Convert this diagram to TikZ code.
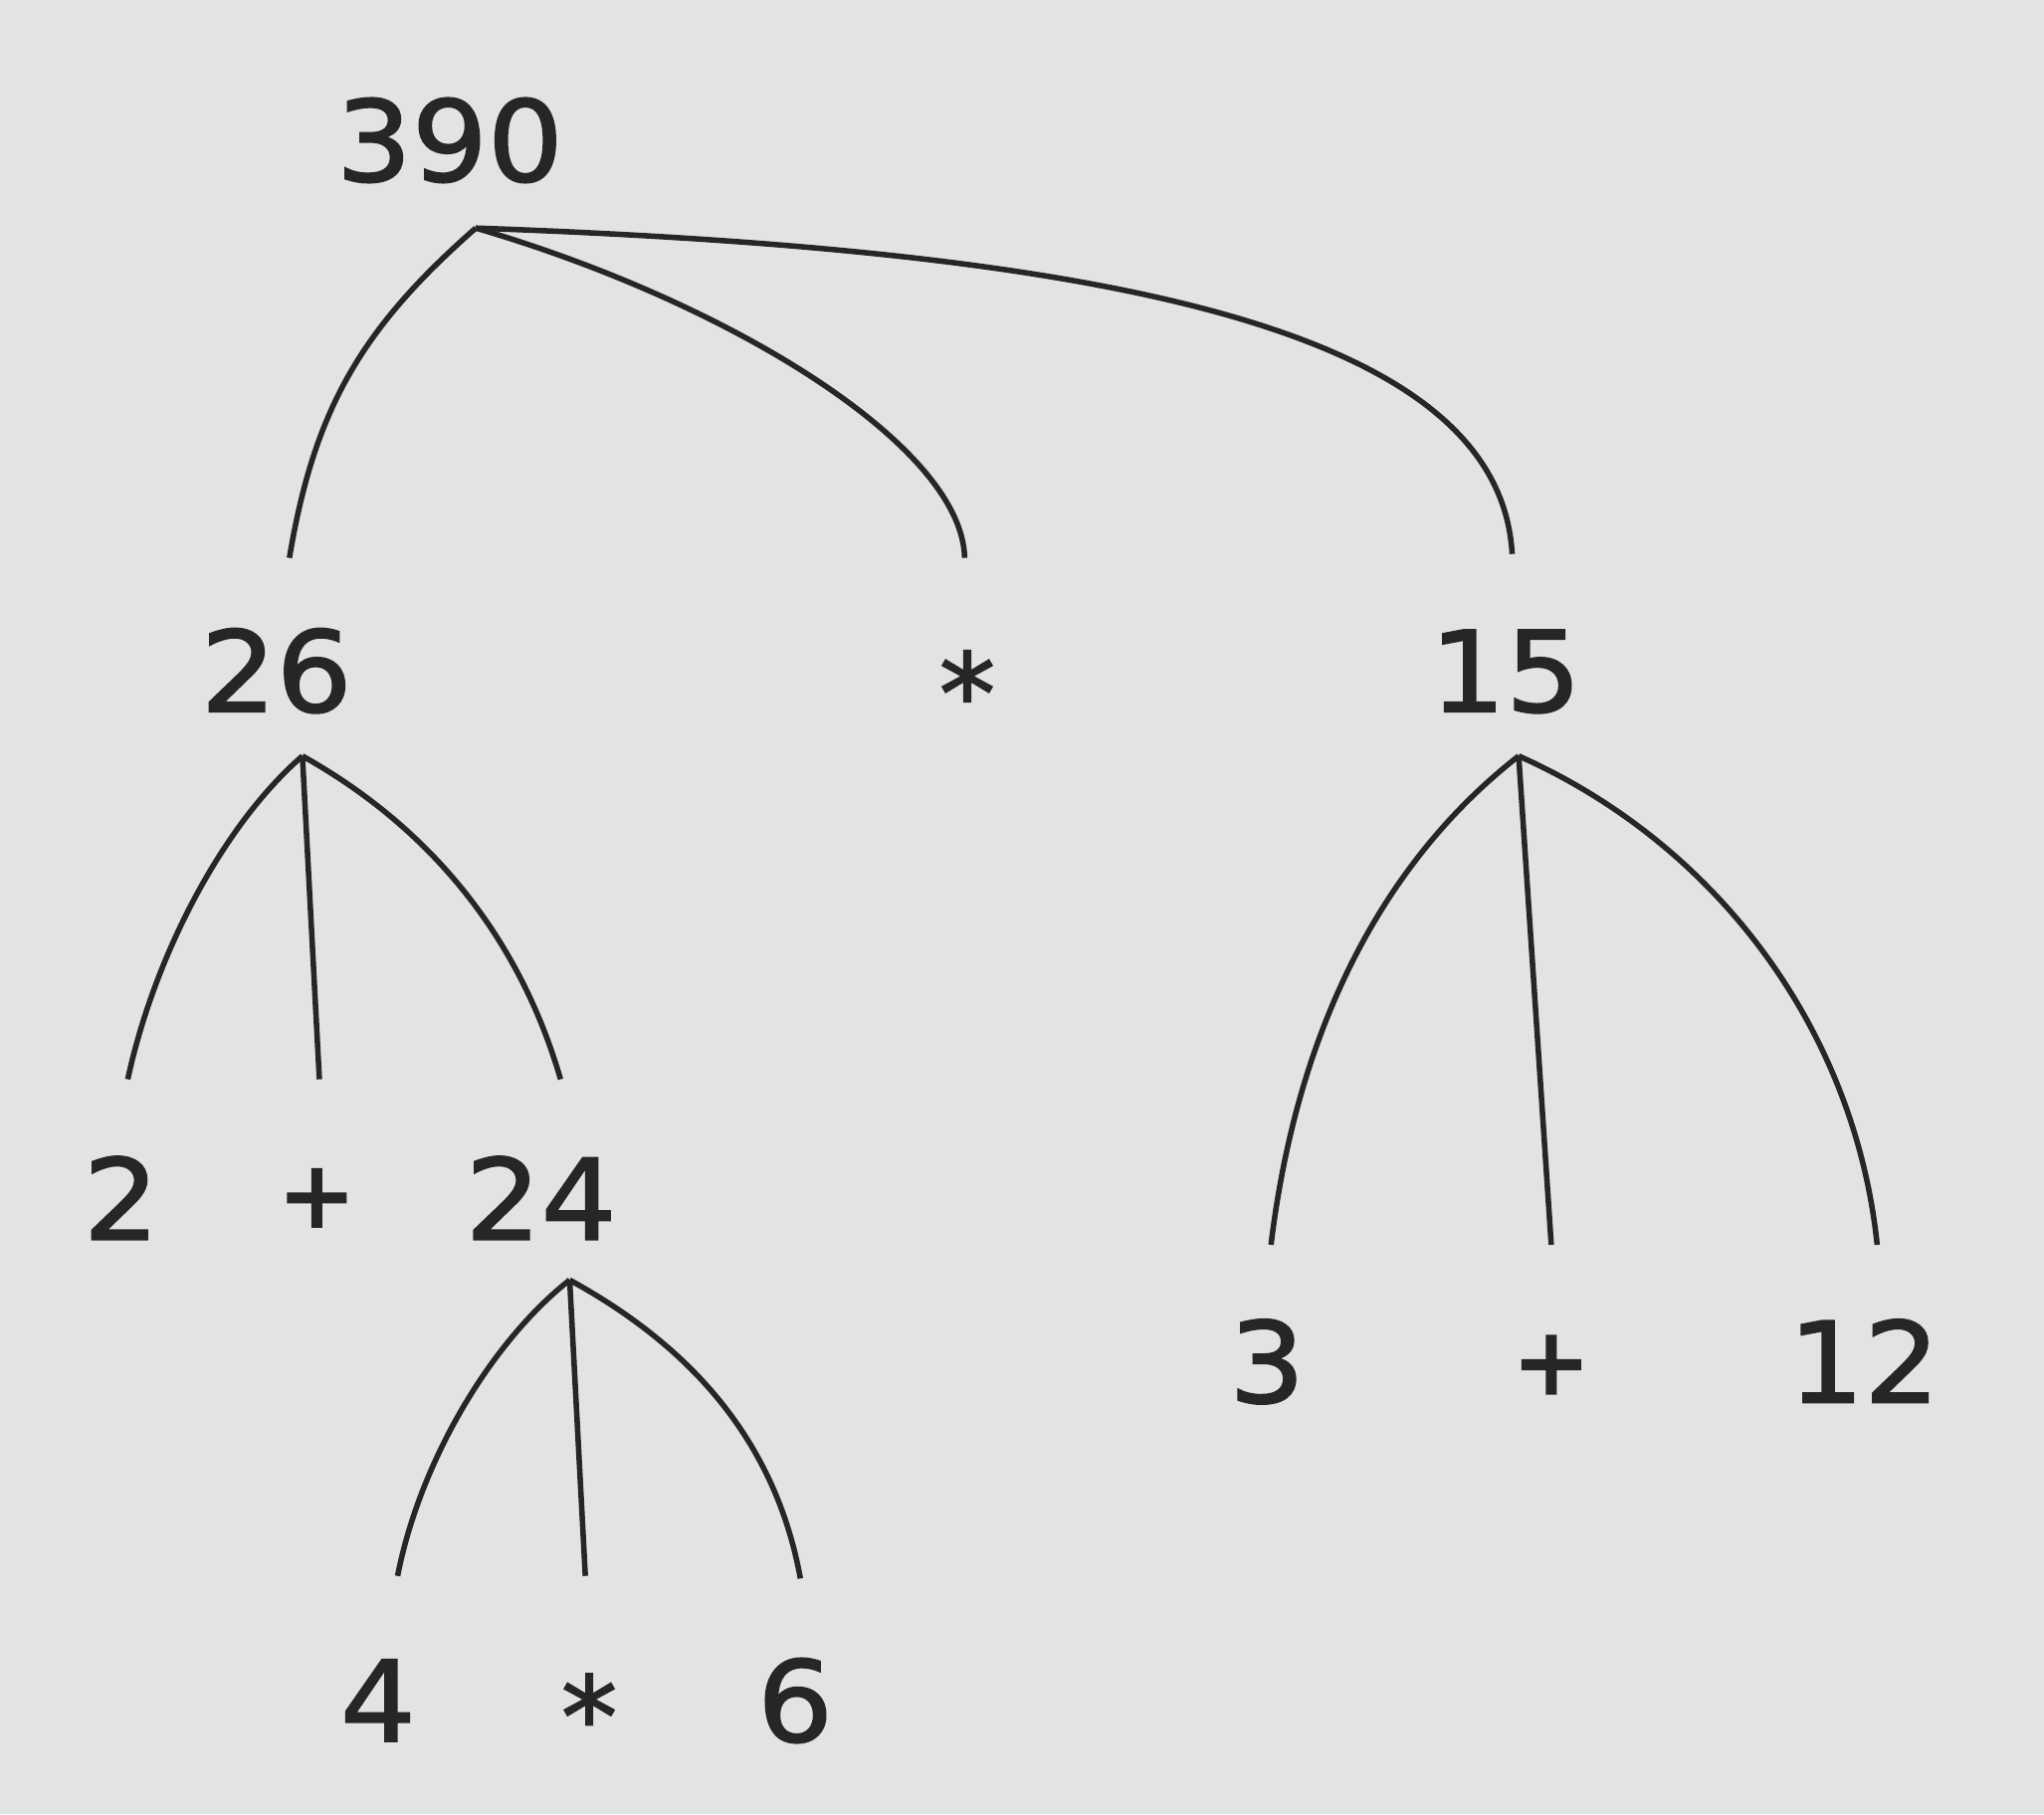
\documentclass[tikz,border=0pt]{standalone}
\usepackage{fontspec}
\newfontfamily\treefont[FakeStretch=1.06,FakeBold=1.6]{DejaVu Sans}
\newfontfamily\opfont[FakeBold=1.6]{DejaVu Sans Mono}
\usetikzlibrary{calc,positioning}
\definecolor{paper}{RGB}{225,228,227}
\definecolor{ink}{RGB}{38,38,40}

\begin{document}
\begin{tikzpicture}[lbl/.style={inner sep=0pt,text height=0.62cm,text depth=0pt,text=ink,font=\treefont\fontsize{24.5}{29}\selectfont},
                    op/.style={lbl,font=\opfont\fontsize{24.5}{29}\selectfont},
                    edge/.style={draw=ink,line width=1.2pt}]
            \useasboundingbox (0,0) rectangle (15.68,13.92);
            \fill[paper] (0,0) rectangle (15.68,13.92);

            \node[lbl] (n390) at (3.45,12.84) {390};
            \node[lbl] (n26) at (2.12,8.77) {26};
            \node[op] (mul1) at (7.42,8.60) {*};
            \node[lbl] (n15) at (11.55,8.77) {15};
            \node[lbl] (n2) at (0.93,4.72) {2};
            \node[op] (add1) at (2.43,4.77) {+};
            \node[lbl] (n24) at (4.15,4.72) {24};
            \node[lbl] (n4) at (2.90,0.87) {4};
            \node[op] (mul2) at (4.52,0.75) {*};
            \node[lbl] (n6) at (6.10,0.87) {6};
            \node[lbl] (n3) at (9.72,3.47) {3};
            \node[op] (add2) at (11.90,3.49) {+};
            \node[lbl] (n12) at (14.30,3.47) {12};

            % branch points and line ends
            \coordinate (t390) at (3.65,12.17);
            \coordinate (t26) at (2.32,8.12);
            \coordinate (t24) at (4.37,4.10);
            \coordinate (t15) at (11.65,8.12);
            \coordinate (e26) at (2.22,9.64);
            \coordinate (emul1) at (7.40,9.64);
            \coordinate (e15) at (11.60,9.67);
            \coordinate (e2) at (0.98,5.64);
            \coordinate (eadd1) at (2.45,5.64);
            \coordinate (e24) at (4.30,5.64);
            \coordinate (e4) at (3.05,1.83);
            \coordinate (emul2) at (4.49,1.83);
            \coordinate (e6) at (6.14,1.81);
            \coordinate (e3) at (9.75,4.37);
            \coordinate (eadd2) at (11.90,4.37);
            \coordinate (e12) at (14.40,4.37);

            \draw[edge] (t390) .. controls (2.76,11.39) and (2.41,10.77) .. (e26);
            \draw[edge] (t390) .. controls (5.60,11.60) and (7.38,10.50) .. (emul1);
            \draw[edge] (t390) .. controls (8.50,12.00) and (11.50,11.40) .. (e15);

            \draw[edge] (t26) .. controls (1.72,7.60) and (1.19,6.61) .. (e2);
            \draw[edge] (t26) -- (eadd1);
            \draw[edge] (t26) .. controls (3.32,7.56) and (3.99,6.71) .. (e24);

            \draw[edge] (t24) .. controls (3.76,3.62) and (3.22,2.70) .. (e4);
            \draw[edge] (t24) -- (emul2);
            \draw[edge] (t24) .. controls (5.32,3.58) and (5.95,2.85) .. (e6);

            \draw[edge] (t15) .. controls (10.60,7.30) and (9.95,6.02) .. (e3);
            \draw[edge] (t15) -- (eadd2);
            \draw[edge] (t15) .. controls (13.18,7.44) and (14.23,6.01) .. (e12);
          \end{tikzpicture}
\end{document}
